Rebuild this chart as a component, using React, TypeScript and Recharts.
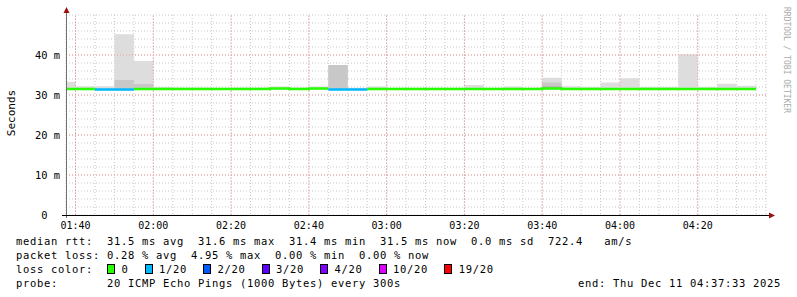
import React from 'react'
import { ComposedChart, Area, Line, XAxis, YAxis, CartesianGrid, ReferenceLine } from 'recharts'

// 5 minute bins, start time of each bin
const binStarts = [
  '01:35', '01:40', '01:45', '01:50', '01:55',
  '02:00', '02:05', '02:10', '02:15', '02:20', '02:25', '02:30', '02:35', '02:40', '02:45', '02:50', '02:55',
  '03:00', '03:05', '03:10', '03:15', '03:20', '03:25', '03:30', '03:35', '03:40', '03:45', '03:50', '03:55',
  '04:00', '04:05', '04:10', '04:15', '04:20', '04:25', '04:30',
]
// median rtt (ms)
const medianRtt = [
  31.5, 31.5, 31.4, 31.4, 31.5,
  31.5, 31.5, 31.5, 31.5, 31.5, 31.5, 31.6, 31.5, 31.6, 31.4, 31.4, 31.5,
  31.5, 31.5, 31.5, 31.5, 31.5, 31.5, 31.5, 31.5, 31.6, 31.5, 31.5, 31.5,
  31.5, 31.5, 31.5, 31.5, 31.5, 31.5, 31.5,
]
// lost pings out of 20
const lossPings = [
  0, 0, 1, 1, 0,
  0, 0, 0, 0, 0, 0, 0, 0, 0, 1, 1, 0,
  0, 0, 0, 0, 0, 0, 0, 0, 0, 0, 0, 0,
  0, 0, 0, 0, 0, 0, 0,
]
// smoke: fastest / slowest ping
const smokeLow = [
  31.3, 31.3, 31.2, 31.1, 31.3,
  31.3, 31.3, 31.3, 31.3, 31.3, 31.3, 31.3, 31.3, 31.3, 31.3, 31.3, 31.3,
  31.3, 31.3, 31.3, 31.3, 31.3, 31.3, 31.3, 31.3, 31.3, 31.3, 31.3, 31.3,
  31.3, 31.3, 31.3, 31.3, 31.3, 31.3, 31.3,
]
const smokeHigh = [
  33.3, 32.2, 32.2, 45.2, 38.5,
  32.0, 31.9, 31.9, 31.8, 31.9, 31.9, 32.1, 31.9, 32.1, 37.5, 31.8, 32.1,
  31.8, 31.8, 31.8, 31.8, 32.5, 31.8, 32.1, 31.8, 34.3, 32.2, 32.0, 33.1,
  34.2, 32.0, 32.0, 40.2, 32.0, 32.8, 32.3,
]
// denser smoke bands
const smokeMidHigh: (number | null)[] = [
  null, null, null, 33.75, 32.75,
  null, null, null, null, null, null, null, null, null, 37.5, null, null,
  null, null, null, null, null, null, null, null, 33.1, null, null, null,
  null, null, null, null, null, null, null,
]
const smokeDarkHigh: (number | null)[] = [
  null, null, null, null, null,
  null, null, null, null, null, null, null, null, null, null, null, null,
  null, null, null, null, null, null, null, null, 32.1, null, null, null,
  null, null, null, null, null, null, null,
]

const xTicks = [
  '01:40', '01:45', '01:50', '01:55', '02:00', '02:05', '02:10', '02:15', '02:20', '02:25', '02:30', '02:35',
  '02:40', '02:45', '02:50', '02:55', '03:00', '03:05', '03:10', '03:15', '03:20', '03:25', '03:30', '03:35',
  '03:40', '03:45', '03:50', '03:55', '04:00', '04:05', '04:10', '04:15', '04:20', '04:25', '04:30', '04:35',
]
const yTicks = [0, 2, 4, 6, 8, 10, 12, 14, 16, 18, 20, 22, 24, 26, 28, 30, 32, 34, 36, 38, 40, 42, 44, 46, 48, 50]
const yMajor = [10, 20, 30, 40]

const lossLevels = [0, 1, 2, 3, 4, 10, 19]
const lossLabels = ['0', '1/20', '2/20', '3/20', '4/20', '10/20', '19/20']
const lossColors = ['#26ff00', '#00b8ff', '#0059ff', '#5e00ff', '#7e00ff', '#dd00ff', '#ff0000']

const START = '01:37:33'
const END = '04:37:33'
const BIN = 5

const statsRtt = 'median rtt:  31.5 ms avg  31.6 ms max  31.4 ms min  31.5 ms now  0.0 ms sd  722.4   am/s'
const statsLoss = 'packet loss: 0.28 % avg  4.95 % max  0.00 % min  0.00 % now'
const probeText = 'probe:       20 ICMP Echo Pings (1000 Bytes) every 300s'
const endText = 'end: Thu Dec 11 04:37:33 2025'

const MONO = '"DejaVu Sans Mono", monospace'

const toMin = (s: string) => {
  const [h, m, sec] = s.split(':').map(Number)
  return h * 60 + m + (sec || 0) / 60
}

function buildRows() {
  const n = binStarts.length
  const out: any[] = []
  for (let i = 0; i <= n; i++) {
    const b = Math.min(i, n - 1)
    const t = i < n ? toMin(binStarts[i]) : toMin(binStarts[b]) + BIN
    const row: any = {
      t,
      smoke: [smokeLow[b], smokeHigh[b]],
      mid: [medianRtt[b], smokeMidHigh[b] ?? medianRtt[b]],
      dark: [medianRtt[b], smokeDarkHigh[b] ?? medianRtt[b]],
    }
    lossLevels.forEach((lv, k) => {
      let v: number | null = null
      if (i < n && lossPings[i] === lv) v = medianRtt[i]
      else if (i > 0 && lossPings[i - 1] === lv) v = medianRtt[i - 1]
      row['m' + k] = v
    })
    out.push(row)
  }
  return out
}

const data = buildRows()

function XTick({ x, y, payload }: any) {
  const mins = Math.round(payload.value)
  if (mins % 20 !== 0 || mins > 270) return <g />
  const label = String(Math.floor(mins / 60)).padStart(2, '0') + ':' + String(mins % 60).padStart(2, '0')
  return (
    <text x={x} y={y} textAnchor="middle" dominantBaseline="central" fontFamily={MONO} fontSize={10} fill="#000">
      {label}
    </text>
  )
}

function YTick({ x, y, payload }: any) {
  const v = payload.value
  if (v % 10 !== 0 || v >= 50) return <g />
  const label = v === 0 ? '0  ' : `${v} m`
  return (
    <text x={x} y={y} textAnchor="end" dominantBaseline="central" fontFamily={MONO} fontSize={10.4}
      fill="#000" style={{ whiteSpace: 'pre' }}>
      {label}
    </text>
  )
}

export default function App() {
  return (
    <div style={{ position: 'fixed', left: 0, top: 0, width: 797, height: 297, background: '#fff', overflow: 'hidden' }}>
      <div style={{ position: 'absolute', left: 0, top: 0 }}>
        <ComposedChart width={797} height={230} data={data} margin={{ top: 15, right: 31, bottom: 0, left: 0 }}>
          <CartesianGrid stroke="#c8c8c8" strokeDasharray="1 2" />
          {xTicks.map(toMin).filter(m => Math.round(m) % 20 === 0 && m < 270).map(m => (
            <ReferenceLine key={'vx' + m} x={m} stroke="#f09a9a" strokeDasharray="1 2" />
          ))}
          {yMajor.map(v => (
            <ReferenceLine key={'hy' + v} y={v} stroke="#f09a9a" strokeDasharray="1 2" />
          ))}
          <XAxis type="number" dataKey="t" domain={[toMin(START), toMin(END)]} allowDataOverflow
            ticks={xTicks.map(toMin)} interval={0} height={15} axisLine={false} tickLine={false}
            tickSize={0} tickMargin={10} tick={(p: any) => <XTick {...p} />} />
          <YAxis type="number" domain={[0, 50]} ticks={yTicks} interval={0} width={66}
            axisLine={false} tickLine={false} tickSize={0} tickMargin={6} tick={(p: any) => <YTick {...p} />} />
          <Area type="stepAfter" dataKey="smoke" fill="#dddddd" fillOpacity={1} stroke="none" isAnimationActive={false} />
          <Area type="stepAfter" dataKey="mid" fill="#c8c8c8" fillOpacity={1} stroke="none" isAnimationActive={false} />
          <Area type="stepAfter" dataKey="dark" fill="#a8a8a8" fillOpacity={1} stroke="none" isAnimationActive={false} />
          {lossLevels.map((lv, k) => (
            <Line key={lv} type="stepAfter" dataKey={'m' + k} stroke={lossColors[k]} strokeWidth={2.5}
              dot={false} activeDot={false} connectNulls={false} isAnimationActive={false} />
          ))}
        </ComposedChart>
      </div>

      {/* axes with arrows, vertical captions */}
      <svg width={797} height={297} style={{ position: 'absolute', left: 0, top: 0, pointerEvents: 'none' }}>
        <line x1={66.5} y1={218} x2={66.5} y2={12} stroke="#707070" strokeWidth={1} />
        <polygon points="63.5,13 69.5,13 66.5,7" fill="#9a1010" />
        <line x1={62} y1={215.5} x2={770} y2={215.5} stroke="#000" strokeWidth={1} />
        <polygon points="769,212.5 769,218.5 775,215.5" fill="#9a1010" />
        <text x={11} y={113} transform="rotate(-90 11 113)" textAnchor="middle" dominantBaseline="central"
          fontFamily={MONO} fontSize={11} fill="#000">Seconds</text>
        <text x={786} y={60} transform="rotate(90 786 60)" textAnchor="middle" dominantBaseline="central"
          fontFamily={MONO} fontSize={8} fill="#aaaaaa">RRDTOOL / TOBI OETIKER</text>
      </svg>

      {/* legend */}
      <div style={{ position: 'absolute', left: 16, top: 234, fontFamily: MONO, fontSize: 10.5, letterSpacing: 0.68, lineHeight: '14px', whiteSpace: 'pre', color: '#000' }}>
        <div>{statsRtt}</div>
        <div>{statsLoss}</div>
        <div style={{ display: 'flex', alignItems: 'center' }}>
          <span>{'loss color:  '}</span>
          {lossLabels.map((lab, k) => (
            <span key={lab} style={{ display: 'flex', alignItems: 'center', marginRight: 16 }}>
              <span style={{ display: 'inline-block', boxSizing: 'border-box', width: 8, height: 10, border: '1px solid #000', background: lossColors[k], marginRight: 6.5 }} />
              <span>{lab}</span>
            </span>
          ))}
        </div>
        <div>{probeText}</div>
      </div>
      <div style={{ position: 'absolute', right: 16, top: 276, fontFamily: MONO, fontSize: 10.5, letterSpacing: 0.68, lineHeight: '14px', whiteSpace: 'pre', color: '#000' }}>
        {endText}
      </div>
    </div>
  )
}
